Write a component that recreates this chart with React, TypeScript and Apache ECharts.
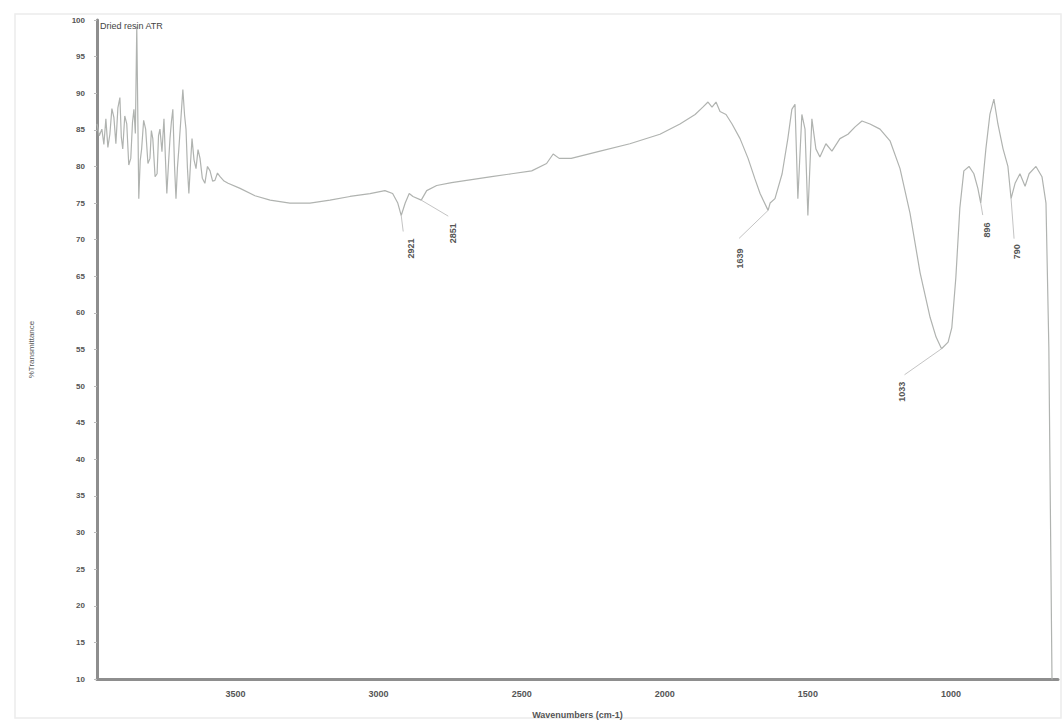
import React, { useEffect, useRef } from "react";
import * as echarts from "echarts";

// FTIR spectrum (ATR), wavenumber in cm-1 and % transmittance
const wavenumbers = [
  3984, 3976, 3967, 3960, 3953, 3946, 3939, 3932, 3925, 3918, 3911, 3904, 3899, 3894, 3887,
  3880, 3873, 3866, 3860, 3855, 3850, 3845, 3838, 3833, 3828, 3821, 3814, 3806, 3799, 3794,
  3789, 3781, 3774, 3769, 3764, 3757, 3750, 3745, 3740, 3734, 3729, 3724, 3719, 3713, 3708,
  3703, 3698, 3691, 3684, 3678, 3673, 3668, 3663, 3657, 3652, 3645, 3638, 3631, 3624, 3616,
  3607, 3598, 3589, 3580, 3572, 3563, 3554, 3540, 3526, 3484, 3432, 3379, 3310, 3240, 3170,
  3100, 3030, 2978, 2951, 2933, 2921, 2907, 2893, 2880, 2851, 2832, 2797, 2745, 2675, 2605,
  2535, 2465, 2413, 2390, 2369, 2327, 2226, 2122, 2017, 1947, 1894, 1867, 1849, 1835, 1821,
  1807, 1786, 1765, 1737, 1709, 1685, 1667, 1639, 1632, 1615, 1590, 1570, 1556, 1545, 1535,
  1521, 1510, 1500, 1486, 1472, 1458, 1437, 1416, 1388, 1360, 1335, 1311, 1283, 1248, 1213,
  1178, 1143, 1108, 1073, 1052, 1033, 1010, 997, 983, 969, 955, 937, 920, 906, 896,
  878, 864, 850, 836, 818, 801, 790, 776, 759, 741, 727, 703, 682, 668, 658,
  647, 640,
];

const transmittance = [
  85.8, 84.2, 85.1, 83.0, 86.5, 82.6, 84.4, 87.9, 86.7, 83.1, 88.0, 89.4, 84.0, 82.4, 86.9,
  85.8, 80.2, 81.1, 86.0, 87.8, 84.5, 99.1, 75.6, 80.8, 82.4, 86.3, 85.1, 80.4, 81.1, 84.9,
  83.8, 78.6, 79.0, 84.2, 85.1, 82.0, 86.5, 81.2, 76.3, 80.5, 83.8, 86.1, 87.8, 80.0, 75.6,
  79.8, 82.4, 86.4, 90.5, 87.0, 85.1, 79.8, 76.3, 80.6, 83.8, 80.9, 79.7, 82.3, 81.1, 78.4,
  77.7, 80.0, 79.4, 78.0, 78.1, 79.1, 78.6, 78.0, 77.7, 77.0, 76.0, 75.4, 75.0, 75.0, 75.4,
  75.9, 76.3, 76.7, 76.3, 75.0, 73.3, 75.0, 76.3, 75.9, 75.4, 76.7, 77.4, 77.8, 78.2, 78.6,
  79.0, 79.4, 80.4, 81.7, 81.1, 81.1, 82.1, 83.1, 84.4, 85.8, 87.1, 88.1, 88.8, 88.1, 88.8,
  87.5, 87.1, 85.8, 83.8, 81.1, 78.3, 76.3, 74.0, 75.0, 75.6, 79.0, 83.8, 87.8, 88.5, 75.6,
  87.1, 85.1, 73.3, 86.5, 82.4, 81.3, 83.1, 82.1, 83.8, 84.4, 85.4, 86.2, 85.8, 85.1, 83.5,
  79.7, 73.6, 65.5, 59.4, 56.7, 55.1, 56.0, 58.0, 64.8, 74.3, 79.4, 80.0, 79.0, 77.0, 75.0,
  82.4, 87.1, 89.2, 85.8, 82.4, 80.0, 75.6, 77.7, 79.0, 77.3, 79.0, 80.0, 78.6, 75.0, 55.3,
  10.0, 8.0,
];

// Annotated absorption peaks
const peakWavenumbers = [2921, 2851, 1639, 1033, 896, 790];
const peakTransmittance = [73.3, 75.4, 74.0, 55.1, 75.0, 75.6];
const peakLabels = ["2921", "2851", "1639", "1033", "896", "790"];

// Axis ticks
const xTickValues = [1000, 1500, 2000, 2500, 3000, 3500];

// Pixel offsets of each peak's leader end and label centre (style only)
const leaderOffsets = [
  [2, 16], [27, 16], [-29, 28], [-37, 26], [2, 12], [3, 40],
];
const labelOffsets = [
  [10, 33], [32, 33], [-28, 48], [-40, 43], [6, 27], [6, 53],
];

const FONT = "Liberation Sans, Arial, sans-serif";

export default function App() {
  const ref = useRef<HTMLDivElement>(null);

  useEffect(() => {
    document.body.style.margin = "0";
    if (!ref.current) return;
    const chart = echarts.init(ref.current, null, { renderer: "svg" });

    const spectrum = wavenumbers.map((w, i) => [w, transmittance[i]]);
    const peaks = peakWavenumbers.map((w, i) => [w, peakTransmittance[i], i]);

    chart.setOption({
      animation: false,
      backgroundColor: "#ffffff",
      grid: { left: 97, right: 4, top: 20, bottom: 39 },
      graphic: [
        {
          type: "rect",
          silent: true,
          z: -10,
          shape: { x: 15, y: 14, width: 1046, height: 704 },
          style: { fill: "none", stroke: "#ececec", lineWidth: 1.5 },
        },
        {
          type: "text",
          left: 100,
          top: 21,
          z: 10,
          style: {
            text: "Dried resin ATR",
            fontFamily: FONT,
            fontSize: 9,
            fill: "#444",
          },
        },
      ],
      xAxis: {
        type: "value",
        inverse: true,
        min: 626,
        max: 3984,
        name: "Wavenumbers (cm-1)",
        nameLocation: "middle",
        nameGap: 31,
        nameTextStyle: { fontFamily: FONT, fontSize: 9, color: "#555", fontWeight: "bold" },
        axisLine: { show: true, onZero: false, lineStyle: { color: "#8e8e8e", width: 3 } },
        axisTick: { show: false, customValues: xTickValues },
        axisLabel: {
          customValues: xTickValues,
          formatter: (v: number) => String(v),
          margin: 10,
          fontFamily: FONT,
          fontSize: 9,
          color: "#555",
          fontWeight: "bold",
        },
        splitLine: { show: false },
      },
      yAxis: {
        type: "value",
        min: 10,
        max: 100,
        interval: 5,
        name: "%Transmittance",
        nameLocation: "middle",
        nameGap: 62,
        nameTextStyle: { fontFamily: FONT, fontSize: 8, color: "#555" },
        axisLine: { show: true, onZero: false, lineStyle: { color: "#8e8e8e", width: 3 } },
        axisTick: { show: true, length: 3, lineStyle: { color: "#bbb" } },
        axisLabel: {
          margin: 12,
          fontFamily: FONT,
          fontSize: 8,
          color: "#555",
          fontWeight: "bold",
        },
        splitLine: { show: false },
      },
      series: [
        {
          type: "line",
          data: spectrum,
          showSymbol: false,
          symbol: "none",
          clip: true,
          lineStyle: { color: "#b0b3b0", width: 1.2 },
          z: 2,
        },
        {
          type: "custom",
          data: peaks,
          clip: false,
          z: 5,
          renderItem: (_params: any, api: any) => {
            const idx = api.value(2);
            const p = api.coord([api.value(0), api.value(1)]);
            const lo = leaderOffsets[idx];
            const la = labelOffsets[idx];
            return {
              type: "group",
              children: [
                {
                  type: "line",
                  shape: { x1: p[0], y1: p[1], x2: p[0] + lo[0], y2: p[1] + lo[1] },
                  style: { stroke: "#c4c4c4", lineWidth: 1 },
                },
                {
                  type: "text",
                  x: p[0] + la[0],
                  y: p[1] + la[1],
                  rotation: Math.PI / 2,
                  style: {
                    text: peakLabels[idx],
                    fontFamily: FONT,
                    fontSize: 9,
                    fontWeight: "bold",
                    fill: "#555",
                    align: "center",
                    verticalAlign: "middle",
                  },
                },
              ],
            };
          },
        },
      ],
    });

    return () => chart.dispose();
  }, []);

  return <div ref={ref} style={{ width: 1062, height: 724 }} />;
}
